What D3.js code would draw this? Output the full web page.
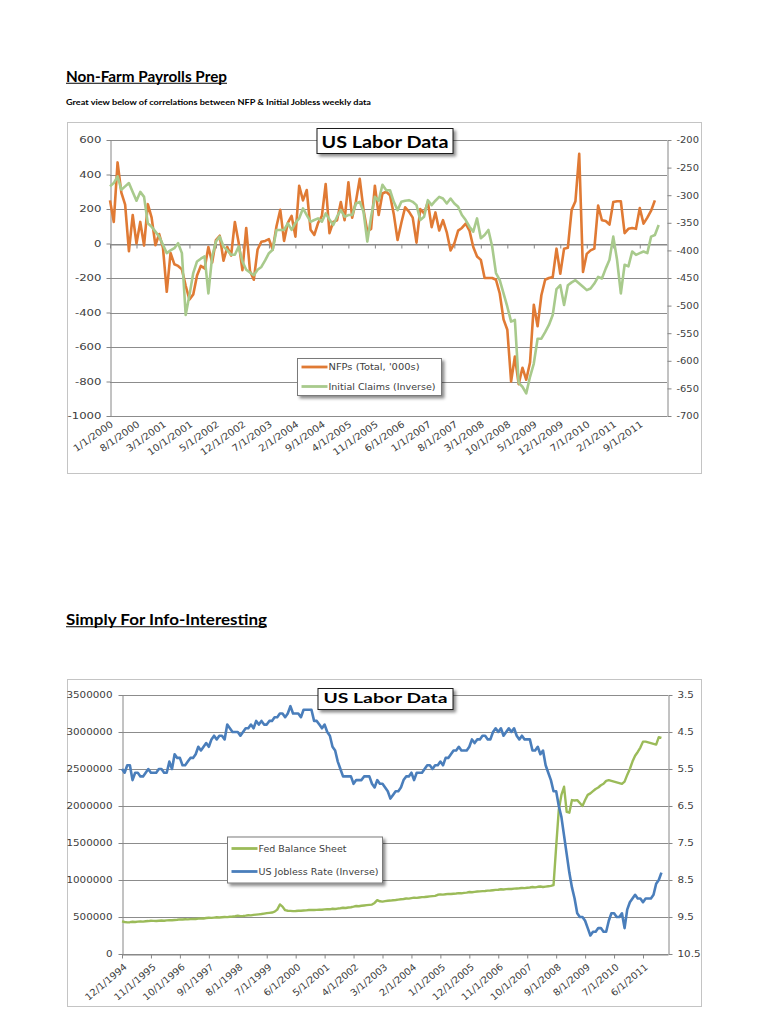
<!DOCTYPE html>
<html><head><meta charset="utf-8">
<script src="https://cdn.jsdelivr.net/npm/d3@7"></script>
<style>body{margin:0;background:#fff}svg{display:block}</style>
</head><body>
<svg id="c" width="768" height="1024"></svg>
<script>
// ---------- DATA: chart 1 (monthly, Jan 2000 onward) ----------
const nfpTotal = [
 250,125,470,295,225,-45,165,0,125,-12,228,150,
 -10,55,-25,-280,-55,-120,-130,-150,-245,-325,-295,-185,
 -130,-145,-20,-110,20,45,-100,-20,-70,125,5,-155,
 90,-160,-210,-35,10,15,25,-35,100,195,15,120,
 160,40,335,250,310,80,50,120,160,345,60,125,
 135,240,135,355,150,245,375,195,70,85,335,165,
 290,300,280,170,20,120,210,185,150,5,200,175,
 240,95,180,75,135,65,-40,0,75,90,115,75,
 -20,-75,-95,-200,-200,-200,-210,-290,-440,-500,-800,-655,
 -815,-720,-790,-690,-355,-480,-300,-210,-200,-195,-30,-175,
 -30,-25,195,245,520,-165,-60,-40,-30,220,135,130,
 110,240,245,245,60,85,90,85,205,115,150,190,
 250];
const initialClaimsInverse = [
 -284,-278,-266,-290,-284,-278,-294,-310,-294,-303,-351,-357,
 -366,-375,-390,-405,-400,-396,-387,-405,-517,-481,-441,-420,
 -415,-411,-478,-411,-384,-375,-393,-400,-408,-408,-393,-420,
 -435,-440,-445,-435,-430,-418,-405,-399,-363,-363,-363,-351,
 -363,-350,-342,-324,-336,-348,-345,-342,-348,-333,-344,-354,
 -339,-327,-339,-336,-336,-315,-312,-330,-384,-339,-303,-310,
 -281,-291,-291,-312,-327,-312,-310,-309,-312,-318,-345,-339,
 -309,-318,-310,-303,-306,-315,-306,-315,-321,-336,-345,-357,
 -366,-342,-378,-372,-363,-393,-441,-454,-478,-502,-529,-526,
 -640,-647,-659,-629,-605,-560,-560,-548,-535,-517,-470,-463,
 -499,-463,-458,-454,-460,-466,-472,-469,-460,-448,-451,-433,
 -417,-375,-417,-478,-426,-429,-402,-408,-405,-402,-405,-375,
 -372,-354];
const nfpTickLabels = ["1/1/2000","8/1/2000","3/1/2001","10/1/2001","5/1/2002","12/1/2002","7/1/2003",
 "2/1/2004","9/1/2004","4/1/2005","11/1/2005","6/1/2006","1/1/2007","8/1/2007","3/1/2008",
 "10/1/2008","5/1/2009","12/1/2009","7/1/2010","2/1/2011","9/1/2011"];
const nfpTickIndex = [0,7,14,21,28,35,42,49,56,63,70,77,84,91,98,105,112,119,126,133,140];
const nfpAxisTicks = [600,400,200,0,-200,-400,-600,-800,-1000];
const claimsAxisTicks = [-200,-250,-300,-350,-400,-450,-500,-550,-600,-650,-700];

// ---------- DATA: chart 2 (monthly, Dec 1994 onward) ----------
const fedBalanceSheet = [
 440000,432000,428000,430000,436000,433000,438000,440000,437000,442000,445000,450000,
 448000,446000,450000,452000,449000,455000,458000,456000,460000,463000,468000,466000,
 470000,468000,472000,475000,473000,478000,482000,480000,486000,490000,488000,492000,
 496000,494000,497000,500000,498000,503000,506000,510000,518000,512000,514000,518000,
 524000,522000,528000,532000,536000,540000,546000,552000,556000,560000,572000,600000,
 670000,640000,592000,585000,583000,580000,581000,584000,585000,588000,590000,594000,
 596000,594000,597000,600000,598000,603000,606000,604000,612000,608000,614000,618000,
 625000,622000,628000,632000,640000,649000,645000,652000,656000,660000,664000,668000,
 690000,728000,712000,708000,714000,720000,722000,726000,730000,735000,740000,744000,
 750000,748000,755000,761000,758000,764000,768000,770000,774000,778000,782000,786000,
 800000,805000,803000,808000,812000,810000,815000,818000,822000,820000,826000,830000,
 838000,835000,840000,844000,846000,850000,852000,856000,858000,862000,866000,868000,
 875000,872000,876000,880000,878000,884000,886000,888000,892000,890000,895000,898000,
 905000,900000,908000,912000,905000,910000,915000,920000,930000,1450000,1950000,2150000,
 2260000,1920000,1910000,2080000,2075000,2080000,2040000,2000000,2080000,2150000,2170000,2200000,
 2230000,2250000,2280000,2300000,2340000,2350000,2340000,2330000,2320000,2310000,2300000,2330000,
 2420000,2500000,2600000,2680000,2730000,2790000,2870000,2870000,2860000,2850000,2840000,2830000,
 2930000,2920000];
const usJoblessRate = [
 5.5,
 5.6,5.4,5.4,5.8,5.6,5.6,5.7,5.7,5.6,5.5,5.6,5.6,
 5.6,5.5,5.5,5.6,5.6,5.3,5.5,5.1,5.2,5.2,5.4,5.4,
 5.3,5.2,5.2,5.1,4.9,5.0,4.9,4.8,4.9,4.7,4.6,4.7,
 4.6,4.6,4.7,4.3,4.4,4.5,4.5,4.5,4.6,4.5,4.4,4.4,
 4.3,4.4,4.2,4.3,4.2,4.3,4.3,4.2,4.2,4.1,4.1,4.0,
 4.0,4.1,4.0,3.8,4.0,4.0,4.0,4.1,3.9,3.9,3.9,3.9,
 4.2,4.2,4.3,4.4,4.3,4.5,4.6,4.9,5.0,5.3,5.5,5.7,
 5.7,5.7,5.7,5.9,5.8,5.8,5.8,5.7,5.7,5.7,5.9,6.0,
 5.8,5.9,5.9,6.0,6.1,6.3,6.2,6.1,6.1,6.0,5.8,5.7,
 5.7,5.6,5.8,5.6,5.6,5.6,5.5,5.4,5.4,5.5,5.4,5.4,
 5.3,5.4,5.2,5.2,5.1,5.0,5.0,4.9,5.0,5.0,5.0,4.9,
 4.7,4.8,4.7,4.7,4.6,4.6,4.7,4.7,4.5,4.4,4.5,4.4,
 4.6,4.5,4.4,4.5,4.4,4.6,4.7,4.6,4.7,4.7,4.7,5.0,
 5.0,4.9,5.1,5.0,5.4,5.6,5.8,6.1,6.1,6.5,6.8,7.3,
 7.8,8.3,8.7,9.0,9.4,9.5,9.5,9.6,9.8,10.0,9.9,9.9,
 9.8,9.8,9.9,9.9,9.6,9.4,9.4,9.5,9.5,9.4,9.8,9.3,
 9.1,9.0,8.9,9.0,9.0,9.1,9.0,9.0,9.0,8.9,8.6,8.5,
 8.3];
const balanceTickLabels = ["12/1/1994","11/1/1995","10/1/1996","9/1/1997","8/1/1998","7/1/1999","6/1/2000",
 "5/1/2001","4/1/2002","3/1/2003","2/1/2004","1/1/2005","12/1/2005","11/1/2006","10/1/2007",
 "9/1/2008","8/1/2009","7/1/2010","6/1/2011"];
const balanceTickIndex = [0,11,22,33,44,55,66,77,88,99,110,121,132,143,154,165,176,187,198];
const balanceAxisTicks = [0,500000,1000000,1500000,2000000,2500000,3000000,3500000];
const rateAxisTicks = [3.5,4.5,5.5,6.5,7.5,8.5,9.5,10.5];

// ---------- DRAWING ----------
const svg = d3.select("#c");
const defs = svg.append("defs");
const flt = defs.append("filter").attr("id","shadow").attr("x","-20%").attr("y","-30%").attr("width","150%").attr("height","180%");
flt.append("feDropShadow").attr("dx",2.5).attr("dy",2.5).attr("stdDeviation",1.4).attr("flood-color","#000").attr("flood-opacity",0.45);

const AX = "DejaVu Sans", HD = "Lato", GRID = "#8c8c8c", TXT = "#404040";

function stretch(sel, s){
  sel.each(function(){
    const L = this.getComputedTextLength();
    d3.select(this).attr("textLength", L*s).attr("lengthAdjust","spacingAndGlyphs");
  });
}
function heading(txt, x, y, size, len){
  svg.append("text").attr("x",x).attr("y",y).attr("font-family",HD).attr("font-weight","bold")
    .attr("font-size",size).attr("fill","#000").attr("textLength",len).attr("lengthAdjust","spacingAndGlyphs").text(txt);
  svg.append("line").attr("x1",x).attr("x2",x+len).attr("y1",y+1.8).attr("y2",y+1.8).attr("stroke","#000").attr("stroke-width",1.1);
}
function styleAxis(g, s){
  g.selectAll(".domain").attr("stroke","#868686");
  g.selectAll(".tick line").attr("stroke","#868686");
  g.selectAll("text").attr("font-family",AX).attr("font-size",9).attr("fill",TXT);
  if (s) stretch(g.selectAll("text"), s);
}
function titleBox(x,y,w,h,size,base,len){
  svg.append("rect").attr("x",x).attr("y",y).attr("width",w).attr("height",h).attr("fill","#fff")
    .attr("stroke","#1a1a1a").attr("stroke-width",1).attr("filter","url(#shadow)");
  svg.append("text").attr("x",x+w/2).attr("y",base).attr("text-anchor","middle").attr("font-family",HD)
    .attr("font-weight","bold").attr("font-size",size).attr("fill","#000")
    .attr("textLength",len).attr("lengthAdjust","spacingAndGlyphs").text("US Labor Data");
}
function legend(x,y,w,h,items){
  svg.append("rect").attr("x",x).attr("y",y).attr("width",w).attr("height",h).attr("fill","#fff")
    .attr("stroke","#7a7a7a").attr("stroke-width",1).attr("filter","url(#shadow)");
  items.forEach(it=>{
    svg.append("line").attr("x1",x+4).attr("x2",x+30).attr("y1",it.y).attr("y2",it.y)
      .attr("stroke",it.color).attr("stroke-width",2.8);
    svg.append("text").attr("x",x+31).attr("y",it.y+3).attr("font-family",AX).attr("font-size",8)
      .attr("fill",TXT).attr("textLength",it.len).attr("lengthAdjust","spacingAndGlyphs").text(it.label);
  });
}

// headings
heading("Non-Farm Payrolls Prep", 66, 81.5, 16, 161);
svg.append("text").attr("x",66).attr("y",105).attr("font-family",HD).attr("font-weight","bold").attr("font-size",7.5)
  .attr("fill","#000").attr("textLength",305).attr("lengthAdjust","spacingAndGlyphs")
  .text("Great view below of correlations between NFP & Initial Jobless weekly data");
heading("Simply For Info-Interesting", 66, 625, 16, 201);

// ===== Chart 1 =====
svg.append("rect").attr("x",67.5).attr("y",122.5).attr("width",634).attr("height",351).attr("fill","#fff").attr("stroke","#c4c4c4");
const x1 = d3.scaleLinear().domain([0,147.2]).range([110,667]);
const yL = d3.scaleLinear().domain([-1000,600]).range([416,140]);
const yR = d3.scaleLinear().domain([-700,-200]).range([416,140]);

svg.append("g").selectAll("line").data(nfpAxisTicks).join("line")
  .attr("x1",110).attr("x2",667).attr("y1",d=>Math.round(yL(d))+0.5).attr("y2",d=>Math.round(yL(d))+0.5)
  .attr("stroke",GRID).attr("stroke-width",1);

const gl1 = svg.append("g").attr("transform","translate(110.5,0)")
  .call(d3.axisLeft(yL).tickValues(nfpAxisTicks).tickSize(4).tickSizeOuter(0).tickPadding(5).tickFormat(d=>String(d)));
styleAxis(gl1, 1.3);
const gr1 = svg.append("g").attr("transform","translate(667.5,0)")
  .call(d3.axisRight(yR).tickValues(claimsAxisTicks).tickSize(4).tickSizeOuter(0).tickPadding(5).tickFormat(d=>String(d)));
styleAxis(gr1, 1.1);
const gc1 = svg.append("g").attr("transform",`translate(0,${Math.round(yL(0))+0.5})`)
  .call(d3.axisBottom(x1).tickValues(nfpTickIndex).tickSize(4).tickSizeOuter(0).tickFormat(""));
styleAxis(gc1);
const gx1 = svg.append("g").attr("transform","translate(0,416)")
  .call(d3.axisBottom(x1).tickValues(nfpTickIndex).tickSize(0).tickFormat((d,i)=>nfpTickLabels[i]));
gx1.select(".domain").remove();
styleAxis(gx1);
gx1.selectAll("text").attr("font-size",9.5).attr("text-anchor","end").attr("x",0).attr("y",0).attr("dy","0.35em")
  .attr("transform","translate(1.5,7) rotate(-35)");
stretch(gx1.selectAll("text"), 1.08);

const lineNfp = d3.line().x((d,i)=>x1(i)).y(d=>yL(d));
const lineClaims = d3.line().x((d,i)=>x1(i)).y(d=>yR(d));
svg.append("path").datum(nfpTotal).attr("d",lineNfp).attr("fill","none").attr("stroke","#E07A34")
  .attr("stroke-width",2.6).attr("stroke-linejoin","round");
svg.append("path").datum(initialClaimsInverse).attr("d",lineClaims).attr("fill","none").attr("stroke","#A8CA8C")
  .attr("stroke-width",2.6).attr("stroke-linejoin","round");

titleBox(317,128.5,136,25,17,148.3,127);
legend(297.5,358.5,144,37,[
  {y:367,color:"#E07A34",label:"NFPs (Total, '000s)",len:91},
  {y:386.5,color:"#A8CA8C",label:"Initial Claims (Inverse)",len:107}
]);

// ===== Chart 2 =====
svg.append("rect").attr("x",67.5).attr("y",679.5).attr("width",634).attr("height",327).attr("fill","#fff").attr("stroke","#c4c4c4");
const x2 = d3.scaleLinear().domain([0,207.5]).range([122,668]);
const yB = d3.scaleLinear().domain([0,3500000]).range([954,695]);
const yJ = d3.scaleLinear().domain([3.5,10.5]).range([695,954]);

svg.append("g").selectAll("line").data(balanceAxisTicks).join("line")
  .attr("x1",122).attr("x2",668).attr("y1",d=>Math.round(yB(d))+0.5).attr("y2",d=>Math.round(yB(d))+0.5)
  .attr("stroke",GRID).attr("stroke-width",1);

const gl2 = svg.append("g").attr("transform","translate(122.5,0)")
  .call(d3.axisLeft(yB).tickValues(balanceAxisTicks).tickSize(4).tickSizeOuter(0).tickPadding(6).tickFormat(d=>String(d)));
styleAxis(gl2, 1.15);
const gr2 = svg.append("g").attr("transform","translate(668.5,0)")
  .call(d3.axisRight(yJ).tickValues(rateAxisTicks).tickSize(4).tickSizeOuter(0).tickPadding(5).tickFormat(d=>d.toFixed(1)));
styleAxis(gr2, 1.15);
const gx2 = svg.append("g").attr("transform","translate(0,954.5)")
  .call(d3.axisBottom(x2).tickValues(balanceTickIndex).tickSize(4).tickSizeOuter(0).tickFormat((d,i)=>balanceTickLabels[i]));
styleAxis(gx2);
gx2.selectAll("text").attr("font-size",9.5).attr("text-anchor","end").attr("x",0).attr("y",0).attr("dy","0.35em")
  .attr("transform","translate(3,11) rotate(-40)");
stretch(gx2.selectAll("text"), 1.05);

const lineBal = d3.line().x((d,i)=>x2(i)).y(d=>yB(d));
const lineRate = d3.line().x((d,i)=>x2(i)).y(d=>yJ(d));
svg.append("path").datum(fedBalanceSheet).attr("d",lineBal).attr("fill","none").attr("stroke","#9BBB59")
  .attr("stroke-width",2.4).attr("stroke-linejoin","round");
svg.append("path").datum(usJoblessRate).attr("d",lineRate).attr("fill","none").attr("stroke","#4A7EBB")
  .attr("stroke-width",2.6).attr("stroke-linejoin","round");

titleBox(318,688.5,135,21,14,702.7,124);
legend(227.5,837,155,46,[
  {y:848.5,color:"#9BBB59",label:"Fed Balance Sheet",len:88},
  {y:871.5,color:"#4A7EBB",label:"US Jobless Rate (Inverse)",len:120}
]);
</script>
</body></html>
